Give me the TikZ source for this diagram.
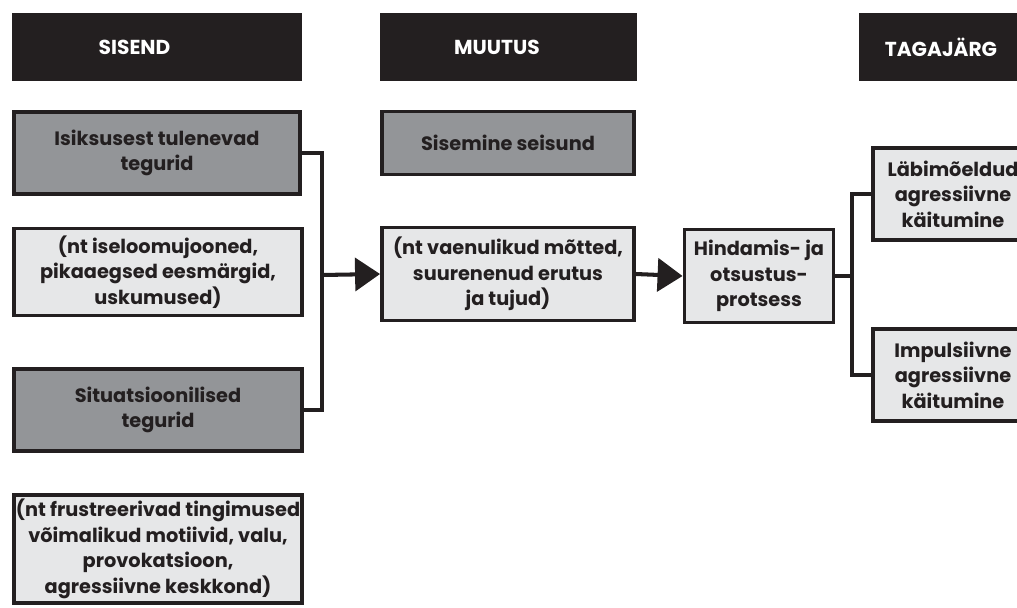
\documentclass[tikz,border=0pt]{standalone}
\usepackage{fontspec}
\setmainfont{Poppins}
\usetikzlibrary{arrows.meta}
\definecolor{ink}{HTML}{231F20}
\definecolor{darkbox}{HTML}{939598}
\definecolor{lightbox}{HTML}{E6E7E8}
\newcommand\px{0.02cm}
\tikzset{
  head/.style={fill=ink,text=white,minimum height=68*\px,inner sep=0pt,font=\bfseries\fontsize{11.5}{13}\selectfont},
  box/.style={draw=ink,line width=2.2pt,align=center,inner sep=0pt,text=ink,font=\bfseries\fontsize{11}{14.6}\selectfont},
  darkbox/.style={box,fill=darkbox},
  lightbox/.style={box,fill=lightbox},
  link/.style={draw=ink,line width=2.3pt},
  arrow/.style={link,-{Triangle[length=0.5cm,width=0.66cm]}}
}
\begin{document}
\begin{tikzpicture}[x=\px,y=-\px]
		\useasboundingbox (0,0) rectangle (1017,608);
		\clip (0,0) rectangle (1017,608);
		% column heads (titles sit a little left of centre)
		\node[head,minimum width=290*\px] (sisend) at (157,47) {SISEND\hspace*{0.9cm}};
		\node[head,minimum width=257*\px] (muutus) at (508,47) {MUUTUS\hspace*{0.44cm}};
		\node[head,minimum width=164*\px] (tagajarg) at (941,47) {TAGAJÄRG};
		% input factors
		\node[darkbox,minimum width=286*\px,minimum height=82*\px] (isik) at (157,153) {Isiksusest tulenevad\\tegurid};
		\node[lightbox,minimum width=288*\px,minimum height=87*\px] (iseloom) at (158,272) {(nt iseloomujooned,\\pikaaegsed eesmärgid,\\uskumused)};
		\node[darkbox,minimum width=288*\px,minimum height=82*\px] (sit) at (158,410) {Situatsioonilised\\tegurid};
		\node[lightbox,minimum width=288*\px,minimum height=108*\px] (frustr) at (158,549) {(nt frustreerivad tingimused\\võimalikud motiivid, valu,\\provokatsioon,\\agressiivne keskkond)};
		% inner state
		\node[darkbox,minimum width=252*\px,minimum height=63*\px] (sisemine) at (508,143) {Sisemine seisund};
		\node[lightbox,minimum width=252*\px,minimum height=93*\px] (vaen) at (508,274) {(nt vaenulikud mõtted,\\suurenenud erutus\\ja tujud)};
		% appraisal
		\node[lightbox,minimum width=149*\px,minimum height=93*\px] (hind) at (759,276) {Hindamis- ja\\otsustus-\\protsess};
		% outcomes
		\node[lightbox,minimum width=160*\px,minimum height=92*\px] (labi) at (953,194) {Läbimõeldud\\agressiivne\\käitumine};
		\node[lightbox,minimum width=160*\px,minimum height=92*\px] (imp) at (953,375) {Impulsiivne\\agressiivne\\käitumine};
		\coordinate (j1) at (322,275);
		\coordinate (j2) at (852,276);
		\draw[link] (isik.east) -| (j1) |- (sit.east);
		\draw[arrow] (j1) -- (vaen.west);
		\draw[arrow] (vaen.east) -- (hind.west);
		\draw[link,line width=1.8pt] (hind.east) -- (j2);
		\draw[link,line width=1.8pt] (labi.west) -| (j2) |- (imp.west);
		\end{tikzpicture}
\end{document}
